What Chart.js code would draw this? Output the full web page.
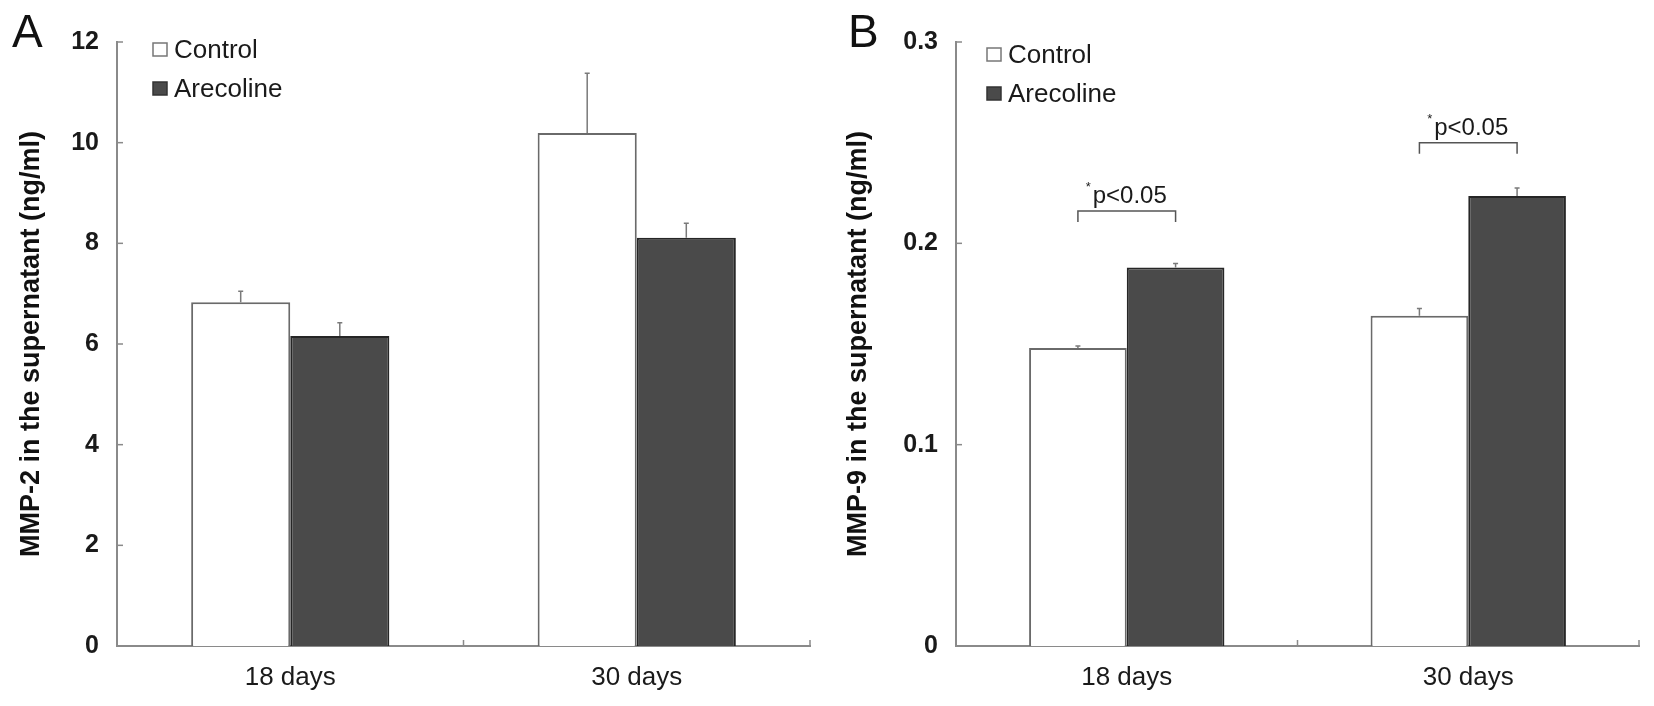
<!DOCTYPE html>
<html>
<head>
<meta charset="utf-8">
<script src="https://cdn.jsdelivr.net/npm/chart.js@4.4.1/dist/chart.umd.min.js"></script>
<style>
  html, body { margin: 0; padding: 0; background: #fff; }
  .panel { position: absolute; top: 0; width: 827px; height: 706px; }
  #panelA { left: 0; }
  #panelB { left: 827px; }
</style>
</head>
<body>
<div class="panel" id="panelA"><canvas id="chartA" width="827" height="706"></canvas></div>
<div class="panel" id="panelB"><canvas id="chartB" width="827" height="706"></canvas></div>
<script>
// data
const categories = ['18 days', '30 days'];

const mmp2Control = [6.83, 10.19];
const mmp2ControlErr = [0.22, 1.19];
const mmp2Arecoline = [6.16, 8.11];
const mmp2ArecolineErr = [0.26, 0.29];

const mmp9Control = [0.148, 0.164];
const mmp9ControlErr = [0.001, 0.0036];
const mmp9Arecoline = [0.188, 0.2235];
const mmp9ArecolineErr = [0.002, 0.004];

// bracket heights (MMP-9 units) for the significance marks
const mmp9SigLevels = [0.216, 0.25];
const sigText = 'p<0.05';

const FONT = "'Liberation Sans', Arial, Helvetica, sans-serif";
const AXIS_COLOR = '#8a8a8a';
const DARK = '#4a4a4a';

// error bars, inward ticks, legend, panel letter, brackets
const decorPlugin = {
    id: 'decor',
    afterDatasetsDraw(chart) {
        const ctx = chart.ctx;
        const yScale = chart.scales.y;
        ctx.save();
        ctx.strokeStyle = '#7a7a7a';
        ctx.lineWidth = 1.5;
        chart.data.datasets.forEach((ds, i) => {
            const meta = chart.getDatasetMeta(i);
            meta.data.forEach((bar, j) => {
                const top = yScale.getPixelForValue(ds.data[j] + ds.errors[j]);
                ctx.beginPath();
                ctx.moveTo(bar.x, bar.y);
                ctx.lineTo(bar.x, top);
                ctx.moveTo(bar.x - 2.5, top);
                ctx.lineTo(bar.x + 2.5, top);
                ctx.stroke();
            });
        });
        ctx.restore();
    },
    afterDraw(chart, args, opts) {
        const ctx = chart.ctx;
        const area = chart.chartArea;
        const xScale = chart.scales.x;
        const yScale = chart.scales.y;
        ctx.save();

        // inward tick marks
        ctx.strokeStyle = AXIS_COLOR;
        ctx.lineWidth = 1.5;
        yScale.ticks.forEach((t, k) => {
            const y = yScale.getPixelForTick(k);
            ctx.beginPath();
            ctx.moveTo(area.left, y);
            ctx.lineTo(area.left + 6, y);
            ctx.stroke();
        });
        const n = chart.data.labels.length;
        for (let k = 1; k <= n; k++) {
            const x = xScale.getPixelForValue(k - 0.5);
            ctx.beginPath();
            ctx.moveTo(x, area.bottom);
            ctx.lineTo(x, area.bottom - 6);
            ctx.stroke();
        }

        // panel letter
        ctx.fillStyle = '#111';
        ctx.font = '46px ' + FONT;
        ctx.textAlign = 'left';
        ctx.textBaseline = 'alphabetic';
        ctx.fillText(opts.letter, opts.letterX, 47);

        // legend
        ctx.font = '26px ' + FONT;
        chart.data.datasets.forEach((ds, i) => {
            const bx = area.left + opts.legendX;
            const by = opts.legendY + i * 39;
            ctx.fillStyle = ds.backgroundColor;
            ctx.fillRect(bx, by, 14, 13);
            ctx.strokeStyle = i === 0 ? '#777' : '#333';
            ctx.lineWidth = 1.5;
            ctx.strokeRect(bx, by, 14, 13);
            ctx.fillStyle = '#1a1a1a';
            ctx.fillText(ds.label, bx + 21, by + 15);
        });

        // significance brackets
        if (opts.sigLevels) {
            const m0 = chart.getDatasetMeta(0);
            const m1 = chart.getDatasetMeta(1);
            opts.sigLevels.forEach((lvl, j) => {
                const x0 = m0.data[j].x;
                const x1 = m1.data[j].x;
                const y = yScale.getPixelForValue(lvl);
                ctx.strokeStyle = '#555';
                ctx.lineWidth = 1.5;
                ctx.beginPath();
                ctx.moveTo(x0, y + 11);
                ctx.lineTo(x0, y);
                ctx.lineTo(x1, y);
                ctx.lineTo(x1, y + 11);
                ctx.stroke();
                ctx.fillStyle = '#1a1a1a';
                ctx.font = '24px ' + FONT;
                const w = ctx.measureText(sigText).width;
                const cx = (x0 + x1) / 2 + 3;
                ctx.textAlign = 'left';
                ctx.fillText(sigText, cx - w / 2, y - 8);
                ctx.font = '13px ' + FONT;
                ctx.fillText('*', cx - w / 2 - 7, y - 20);
            });
        }
        ctx.restore();
    }
};

function makeChart(canvasId, control, controlErr, arecoline, arecolineErr, yOpts, panel) {
    const ctx = document.getElementById(canvasId).getContext('2d');
    return new Chart(ctx, {
        type: 'bar',
        data: {
            labels: categories,
            datasets: [
                {
                    label: 'Control',
                    data: control,
                    errors: controlErr,
                    backgroundColor: '#ffffff',
                    borderColor: '#6a6a6a',
                    borderWidth: 2
                },
                {
                    label: 'Arecoline',
                    data: arecoline,
                    errors: arecolineErr,
                    backgroundColor: DARK,
                    borderColor: '#262626',
                    borderWidth: 2
                }
            ]
        },
        plugins: [decorPlugin],
        options: {
            responsive: false,
            animation: false,
            layout: { padding: { top: 42, right: panel.rightPad, bottom: 0, left: 0 } },
            datasets: { bar: { categoryPercentage: 0.572, barPercentage: 1.0 } },
            plugins: {
                legend: { display: false },
                tooltip: { enabled: false },
                decor: panel
            },
            scales: {
                x: {
                    grid: { display: false, drawTicks: false },
                    border: { display: true, color: AXIS_COLOR, width: 2 },
                    ticks: { color: '#1a1a1a', font: { family: FONT, size: 26 }, padding: 16 },
                    afterFit: (s) => { s.height = 60; }
                },
                y: {
                    min: 0,
                    max: yOpts.max,
                    grid: { display: false, drawTicks: false },
                    border: { display: true, color: AXIS_COLOR, width: 2 },
                    ticks: {
                        stepSize: yOpts.step,
                        color: '#1a1a1a',
                        font: { family: FONT, size: 25, weight: 'bold' },
                        padding: 18
                    },
                    title: {
                        display: true,
                        text: yOpts.title,
                        color: '#111',
                        font: { family: FONT, size: 27, weight: 'bold' },
                        padding: { top: 15, bottom: 0 }
                    },
                    afterFit: (s) => { s.width = panel.axisLeft; }
                }
            }
        }
    });
}

makeChart('chartA', mmp2Control, mmp2ControlErr, mmp2Arecoline, mmp2ArecolineErr,
    { max: 12, step: 2, title: 'MMP-2 in the supernatant (ng/ml)' },
    { letter: 'A', letterX: 12, legendX: 36, legendY: 43, axisLeft: 117, rightPad: 17 });

makeChart('chartB', mmp9Control, mmp9ControlErr, mmp9Arecoline, mmp9ArecolineErr,
    { max: 0.3, step: 0.1, title: 'MMP-9 in the supernatant (ng/ml)' },
    { letter: 'B', letterX: 21, legendX: 31, legendY: 48, axisLeft: 129, rightPad: 15, sigLevels: mmp9SigLevels });
</script>
</body>
</html>
